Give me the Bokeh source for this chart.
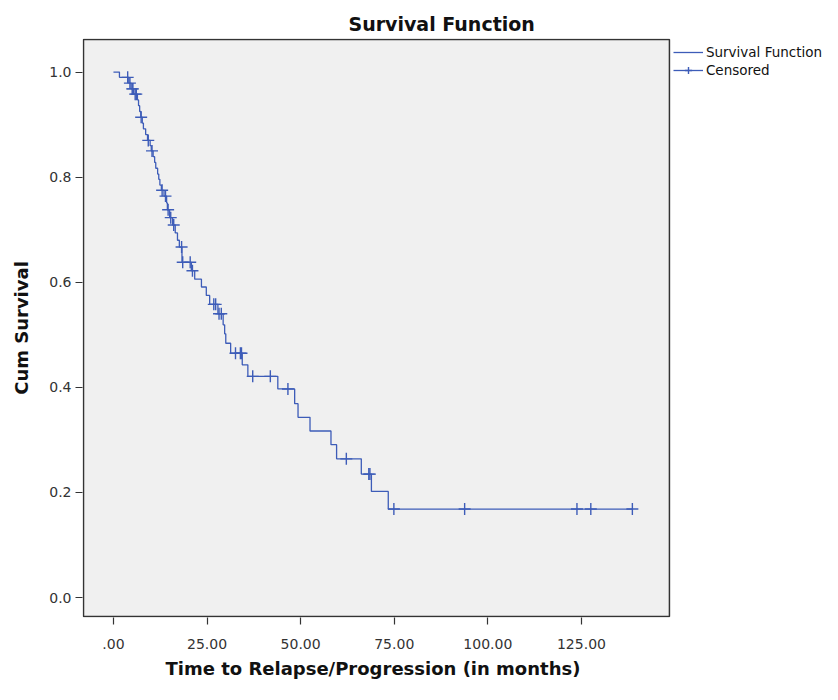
import numpy as np
from bokeh.plotting import figure
from bokeh.models import Range1d, FixedTicker, Legend, LegendItem, BoxAnnotation, Title
from bokeh.embed import file_html
from bokeh.resources import INLINE

# Kaplan-Meier step points: time of drop (months), survival after drop
step_times = [0, 1.6, 4.1, 4.7, 5.4, 6.4, 6.7, 7.0, 7.3, 7.7, 8.0, 8.6, 9.1, 9.8, 10.1,
              10.6, 11.0, 11.3, 11.8, 12.1, 12.4, 12.8, 13.5, 14.2, 14.4, 15.0, 15.8,
              16.5, 17.1, 17.6, 18.3, 20.8, 21.7, 23.5, 24.8, 25.7, 27.9, 29.3, 29.7,
              30.0, 31.3, 34.4, 35.9, 43.9, 48.4, 49.3, 52.5, 58.1, 59.6, 66.2, 68.9, 73.4]
step_surv = [1.0, 0.990, 0.979, 0.968, 0.958, 0.947, 0.936, 0.925, 0.914, 0.903, 0.892,
             0.881, 0.870, 0.860, 0.850, 0.839, 0.828, 0.817, 0.806, 0.796, 0.785, 0.775,
             0.764, 0.751, 0.738, 0.723, 0.709, 0.694, 0.680, 0.667, 0.638, 0.622, 0.606,
             0.591, 0.575, 0.558, 0.540, 0.519, 0.502, 0.484, 0.465, 0.443, 0.421, 0.397,
             0.369, 0.343, 0.317, 0.291, 0.264, 0.235, 0.202, 0.1685]
last_followup = 138.6

# Censored observation times (months)
censor_times = [3.8, 4.4, 5.0, 5.2, 5.8, 6.1, 7.4, 9.3, 10.3, 13.0, 13.9, 14.6, 15.3, 16.1,
                18.2, 18.5, 20.5, 21.1, 26.8, 27.3, 28.2, 28.8, 32.6, 33.9, 34.2, 37.2,
                41.9, 46.6, 62.2, 68.2, 68.5, 74.9, 93.8, 123.8, 127.5, 138.6]

x_ticks = [0, 25, 50, 75, 100, 125]
x_tick_labels = [".00", "25.00", "50.00", "75.00", "100.00", "125.00"]
y_ticks = [0.0, 0.2, 0.4, 0.6, 0.8, 1.0]
y_tick_labels = ["0.0", "0.2", "0.4", "0.6", "0.8", "1.0"]

BLUE = "#3d5cb8"
FONT = "DejaVu Sans"

W, H = 822, 684
BL, BR, BT, BB = 82, 0, 38, 67
FW, FH = W - BL - BR, H - BT - BB

# plot box (SPSS-style grey panel) in data units; the frame extends right to host the legend
PX_PER_MONTH = 3.744
box_x0, box_x1 = -8.0, 148.5
box_y0, box_y1 = -0.036, 1.062
x_start = box_x0 - 1.0 / PX_PER_MONTH
x_end = x_start + FW / PX_PER_MONTH
y_pad = (box_y1 - box_y0) / (FH - 2) * 1.0

st = np.array(step_times + [last_followup])
ss = np.array(step_surv + [step_surv[-1]])
ct = np.array(censor_times)
idx = np.searchsorted(np.array(step_times), ct, side="right") - 1
cs = np.array(step_surv)[idx]

p = figure(width=W, height=H,
           x_range=Range1d(x_start, x_end), y_range=Range1d(box_y0 - y_pad, box_y1 + y_pad),
           output_backend="svg", toolbar_location=None,
           min_border_left=BL, min_border_right=BR, min_border_top=BT, min_border_bottom=BB,
           title="Survival Function")

p.background_fill_color = "white"
p.border_fill_color = "white"
p.outline_line_color = None
p.grid.visible = False

panel = BoxAnnotation(left=box_x0, right=box_x1, bottom=box_y0, top=box_y1,
                      fill_color="#f0f0f0", fill_alpha=1.0,
                      line_color="#333333", line_alpha=1.0, line_width=1.5, level="underlay")
p.add_layout(panel)

r_line = p.step(st, ss, mode="after", line_color=BLUE, line_width=1.3)
r_cens = p.scatter(ct, cs, marker="cross", size=12, line_color=BLUE, line_width=1.4)

p.title.align = "left"
p.title.offset = 266
p.title.standoff = 8
p.title.text_font = FONT
p.title.text_font_size = "19px"
p.title.text_font_style = "bold"
p.title.text_color = "#111111"

for ax in (p.xaxis[0], p.yaxis[0]):
    ax.axis_line_color = None
    ax.major_tick_line_color = "#333333"
    ax.major_tick_line_width = 1.2
    ax.major_tick_out = 7
    ax.major_tick_in = 0
    ax.minor_tick_line_color = None
    ax.major_label_text_font = FONT
    ax.major_label_text_font_size = "14px"
    ax.major_label_text_color = "#333333"
    ax.axis_label_text_font = FONT
    ax.axis_label_text_font_size = "18px"
    ax.axis_label_text_font_style = "bold"
    ax.axis_label_text_color = "#111111"

p.xaxis.ticker = FixedTicker(ticks=x_ticks)
p.xaxis.major_label_overrides = dict(zip(x_ticks, x_tick_labels))
p.xaxis.major_label_standoff = 14

# x-axis title, centred under the grey panel (not the wider frame)
xlabel = Title(text="Time to Relapse/Progression (in months)", align="left", offset=83,
               standoff=9, text_font=FONT, text_font_size="18px", text_font_style="bold",
               text_color="#111111")
p.add_layout(xlabel, "below")

p.yaxis.ticker = FixedTicker(ticks=y_ticks)
p.yaxis.major_label_overrides = dict(zip(y_ticks, y_tick_labels))
p.yaxis.major_label_standoff = 4
p.yaxis.axis_label = "Cum Survival"
p.yaxis.axis_label_standoff = 14

legend_left = (box_x1 - x_start) * PX_PER_MONTH + 4
legend = Legend(items=[LegendItem(label="Survival Function", renderers=[r_line]),
                       LegendItem(label="Censored", renderers=[r_cens, r_line])],
                location=(legend_left, FH - 5 - 36), orientation="vertical",
                margin=0, padding=0, spacing=0,
                glyph_width=30, glyph_height=18, label_height=18, label_standoff=3,
                label_text_font=FONT, label_text_font_size="13.5px",
                label_text_color="#111111",
                border_line_alpha=0, background_fill_alpha=0)
p.add_layout(legend)

open("out.html", "w").write(file_html(p, INLINE))
